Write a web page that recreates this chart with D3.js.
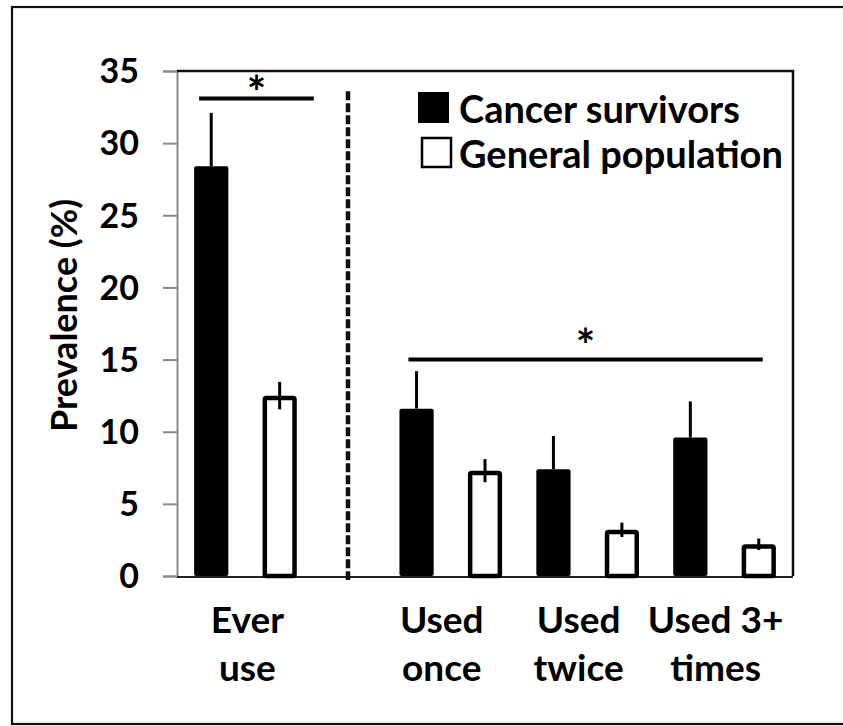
<!DOCTYPE html>
<html>
<head>
<meta charset="utf-8">
<script src="https://cdn.jsdelivr.net/npm/d3@7"></script>
<style>
  html, body { margin: 0; padding: 0; background: #fff; }
  svg { display: block; }
  text { font-family: Lato, "Open Sans", sans-serif; font-weight: 700; fill: #000; }
</style>
</head>
<body>
<svg id="chart" width="843" height="726"></svg>
<script>
// ---- data ----
const categories = ["Ever use", "Used once", "Used twice", "Used 3+ times"];
const categoryLines = [["Ever", "use"], ["Used", "once"], ["Used", "twice"], ["Used 3+", "times"]];
const seriesNames = ["Cancer survivors", "General population"];
const survivors = [28.4, 11.6, 7.4, 9.6];
const survivorsErr = [3.7, 2.6, 2.3, 2.5];
const general = [12.5, 7.3, 3.2, 2.2];
const generalErr = [0.95, 0.8, 0.5, 0.4];
const yTicks = [0, 5, 10, 15, 20, 25, 30, 35];
const yTitle = "Prevalence (%)";
const sigMark = "*";

(function () {
// ---- layout ----
const svg = d3.select("#chart");
const pLeft = 177, pRight = 793, pTop = 71, pBottom = 576;

const y = d3.scaleLinear().domain([0, 35]).range([pBottom, pTop]);
// slot positions: first group is separated from the rest by a half slot
const slotOf = i => (i === 0 ? 0.5 : i + 1);
const x = d3.scaleLinear().domain([0, 4.5]).range([pLeft, pRight]);
const slotW = x(1) - x(0);
const barW = slotW * 0.25;
const off = slotW * 0.25;

// outer border
svg.append("rect").attr("x", 12).attr("y", 7).attr("width", 845).attr("height", 717)
  .attr("fill", "none").attr("stroke", "#111").attr("stroke-width", 2.2);

// y axis (grey)
const yAxis = d3.axisLeft(y).tickValues(yTicks).tickSize(14).tickFormat("");
const gy = svg.append("g").attr("transform", `translate(${pLeft},0)`).call(yAxis);
gy.select(".domain").attr("stroke", "#8a8a8a").attr("stroke-width", 2);
gy.selectAll(".tick line").attr("stroke", "#8a8a8a").attr("stroke-width", 2);

// tick labels
svg.append("g").selectAll("text").data(yTicks).join("text")
  .attr("x", 139).attr("y", d => y(d)).attr("dy", "0.36em")
  .attr("text-anchor", "end").attr("font-size", 34).text(d => d);

// frame top and right
svg.append("path")
  .attr("d", `M${pLeft},${y(35)}H${pRight}V${y(0)}`)
  .attr("fill", "none").attr("stroke", "#111").attr("stroke-width", 2.5);
// bottom axis
svg.append("line").attr("x1", pLeft).attr("x2", pRight).attr("y1", y(0) + 1).attr("y2", y(0) + 1)
  .attr("stroke", "#222").attr("stroke-width", 2);

// y title
svg.append("text")
  .attr("transform", `translate(77,${(pTop + pBottom) / 2 - 8}) rotate(-90)`)
  .attr("text-anchor", "middle").attr("font-size", 36).text(yTitle);

// dashed divider
svg.append("line").attr("x1", Math.round(x(1.25))).attr("x2", Math.round(x(1.25)))
  .attr("y1", y(33.6)).attr("y2", y(0) + 4)
  .attr("stroke", "#111").attr("stroke-width", 4.5).attr("stroke-dasharray", "9,3");

// bars
const gBars = svg.append("g");
const sw = 4.5;
categories.forEach((c, i) => {
  const cx = x(slotOf(i));
  // survivors (black)
  gBars.append("line")
    .attr("x1", cx - off).attr("x2", cx - off)
    .attr("y1", y(survivors[i])).attr("y2", y(survivors[i] + survivorsErr[i]))
    .attr("stroke", "#000").attr("stroke-width", 3);
  gBars.append("rect")
    .attr("x", cx - off - barW / 2).attr("width", barW)
    .attr("y", y(survivors[i])).attr("height", y(0) - y(survivors[i]))
    .attr("rx", 2).attr("fill", "#000");
  // general (white)
  gBars.append("rect")
    .attr("x", cx + off - barW / 2 + sw / 2).attr("width", barW - sw)
    .attr("y", y(general[i]) + sw / 2).attr("height", y(0) - y(general[i]) - sw / 2)
    .attr("rx", 1.5).attr("fill", "#fff").attr("stroke", "#000").attr("stroke-width", sw);
  gBars.append("line")
    .attr("x1", cx + off).attr("x2", cx + off)
    .attr("y1", y(general[i] - generalErr[i])).attr("y2", y(general[i] + generalErr[i]))
    .attr("stroke", "#000").attr("stroke-width", 3);
});

// category labels
categoryLines.forEach((lines, i) => {
  const lxp = x(slotOf(i)) + (i === 0 ? 2 : -9);
  const t = svg.append("text").attr("text-anchor", "middle").attr("font-size", 37)
    .attr("x", lxp).attr("y", 633);
  lines.forEach((ln, k) => {
    t.append("tspan").attr("x", lxp).attr("dy", k === 0 ? 0 : 48).text(ln);
  });
});

// significance brackets
const sig = [
  {x1: x(slotOf(0)) - off - barW / 2 + 5, x2: x(slotOf(0)) + off + barW / 2 + 17, v: 33.1, sdy: 11},
  {x1: x(slotOf(1)) - off - barW / 2 + 9, x2: x(slotOf(3)) + off + 4, v: 15.0, sdy: 2}
];
sig.forEach(s => {
  svg.append("line").attr("x1", s.x1).attr("x2", s.x2).attr("y1", y(s.v)).attr("y2", y(s.v))
    .attr("stroke", "#000").attr("stroke-width", 4);
  svg.append("text").attr("x", (s.x1 + s.x2) / 2).attr("y", y(s.v) + s.sdy)
    .attr("text-anchor", "middle").attr("font-size", 46).text(sigMark);
});

// legend
const lg = svg.append("g");
const lx = 418, ly = [92, 137], lb = 31;
seriesNames.forEach((n, i) => {
  if (i === 0) {
    lg.append("rect").attr("x", lx).attr("y", ly[i]).attr("width", lb).attr("height", lb).attr("fill", "#000");
  } else {
    lg.append("rect").attr("x", lx + 4).attr("y", ly[i] + 1).attr("width", lb - 2).attr("height", lb - 2)
      .attr("fill", "#fff").attr("stroke", "#000").attr("stroke-width", 2.5);
  }
  lg.append("text").attr("x", 459).attr("y", ly[i] + lb).attr("font-size", 38).text(n);
});
})();
</script>
</body>
</html>
